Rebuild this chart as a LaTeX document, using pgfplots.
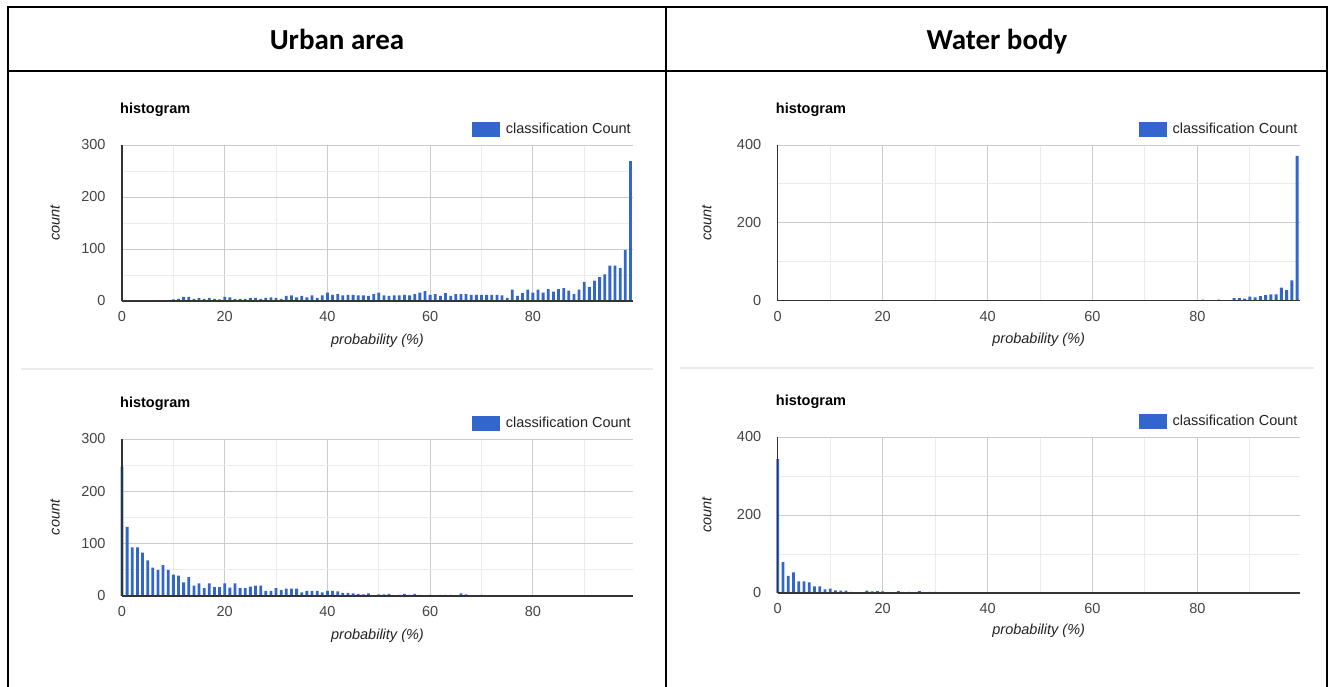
\documentclass[border=0pt]{standalone}
\usepackage{pgfplots}
\pgfplotsset{compat=1.18}
\usepackage{fontspec}
\setmainfont{Liberation Sans}
\newfontfamily\hdrfont{Carlito}
\definecolor{gblue}{HTML}{3366CC}
\definecolor{axdark}{HTML}{333333}
\definecolor{ticklab}{HTML}{444444}
\definecolor{labtxt}{HTML}{222222}
\definecolor{gmaj}{HTML}{CCCCCC}
\definecolor{gmin}{HTML}{EBEBEB}
\newcommand\cf{\fontsize{14.5}{16}\selectfont}
\pgfplotsset{
  gee/.style={
    scale only axis, anchor=south west, clip=false,
    xmin=0, xmax=99.5, ymin=0, enlargelimits=false,
    axis line style={draw=none},
    major tick length=0pt, minor tick length=0pt,
    xtick={0,20,40,60,80}, minor xtick={10,30,50,70,90},
    grid=both,
    major grid style={gmaj, line width=1pt},
    minor grid style={gmin, line width=1pt},
    ybar, bar width=2.8pt,
    /pgf/number format/assume math mode=true,
    ticklabel style={font=\cf, text=ticklab},
    xticklabel style={yshift=-7pt},
    yticklabel style={xshift=-13pt},
    title=histogram,
    title style={at={(rel axis cs:0,1)}, anchor=base west, inner sep=0pt, xshift=-2pt, yshift=26pt, font=\bfseries\cf, text=black},
    xlabel={probability (\%)},
    ylabel=count,
    label style={font=\itshape\cf, text=labtxt},
    legend style={at={(rel axis cs:1,1)}, anchor=east, yshift=16pt, draw=none, fill=none, inner sep=0pt, font=\cf, text=labtxt,
      /tikz/every odd column/.append style={column sep=4pt}},
  },
}
\newcommand\axlines{%
  \draw[axdark, line width=1.5pt] (rel axis cs:0,0) -- (rel axis cs:0,1);
  \draw[axdark, line width=1.5pt] (rel axis cs:0,0) -- (rel axis cs:1,0);
}
\begin{document}
\begin{tikzpicture}
\useasboundingbox (0pt,0pt) rectangle (1335pt,-687pt);
% table frame
\draw[line width=2pt] (8pt,-687pt) -- (8pt,-7pt) -- (1327pt,-7pt) -- (1327pt,-687pt);
\draw[line width=2pt] (8pt,-71pt) -- (1327pt,-71pt);
\draw[line width=2pt] (666pt,-7pt) -- (666pt,-687pt);
\node[font=\hdrfont\bfseries\fontsize{29}{32}\selectfont, anchor=base] at (337pt,-50pt) {Urban area};
\node[font=\hdrfont\bfseries\fontsize{29}{32}\selectfont, anchor=base] at (997pt,-50pt) {Water body};
\draw[gmin, line width=1.5pt] (21pt,-369pt) -- (653pt,-369pt);
\draw[gmin, line width=1.5pt] (680pt,-368pt) -- (1314pt,-368pt);

% Urban area, top
\begin{axis}[gee, at={(122pt,-301pt)}, width=511pt, height=156pt,
  ymax=300, ytick={0,100,200,300}, minor ytick={50,150,250},
  xlabel style={at={(axis description cs:0.5,-0.255)}, anchor=center},
  ylabel style={at={(axis description cs:-0.131,0.5)}, anchor=center}]
\addplot[fill=gblue, draw=none, legend image code/.code={\fill[gblue] (0pt,-7.5pt) rectangle (28pt,7.5pt);}] coordinates {
(0,0)(1,0)(2,0)(3,0)(4,0)(5,0)(6,0)(7,0)(8,1)(9,1)
(10,3)(11,4)(12,8)(13,8)(14,4)(15,6)(16,4)(17,6)(18,4)(19,3)
(20,8)(21,7)(22,4)(23,4)(24,4)(25,6)(26,6)(27,4)(28,6)(29,7)
(30,6)(31,4)(32,10)(33,11)(34,7)(35,10)(36,7)(37,11)(38,6)(39,11)
(40,16)(41,12)(42,13)(43,11)(44,12)(45,12)(46,11)(47,11)(48,10)(49,13)
(50,16)(51,11)(52,10)(53,11)(54,11)(55,12)(56,11)(57,13)(58,16)(59,19)
(60,12)(61,13)(62,10)(63,15)(64,10)(65,13)(66,13)(67,13)(68,12)(69,12)
(70,12)(71,12)(72,12)(73,12)(74,11)(75,6)(76,22)(77,10)(78,15)(79,22)
(80,16)(81,22)(82,16)(83,23)(84,18)(85,23)(86,25)(87,20)(88,13)(89,22)
(90,37)(91,27)(92,39)(93,46)(94,51)(95,68)(96,68)(97,63)(98,98)(99,269)};
\addlegendentry{classification Count}
\axlines
\end{axis}

% Urban area, bottom
\begin{axis}[gee, at={(122pt,-596pt)}, width=511pt, height=157pt,
  ymax=300, ytick={0,100,200,300}, minor ytick={50,150,250},
  xlabel style={at={(axis description cs:0.5,-0.254)}, anchor=center},
  ylabel style={at={(axis description cs:-0.131,0.5)}, anchor=center}]
\addplot[fill=gblue, draw=none, legend image code/.code={\fill[gblue] (0pt,-7.5pt) rectangle (28pt,7.5pt);}] coordinates {
(0,247)(1,132)(2,93)(3,93)(4,83)(5,68)(6,54)(7,50)(8,59)(9,50)
(10,41)(11,39)(12,26)(13,36)(14,20)(15,24)(16,15)(17,24)(18,17)(19,17)
(20,24)(21,16)(22,24)(23,15)(24,15)(25,18)(26,20)(27,20)(28,10)(29,10)
(30,15)(31,11)(32,14)(33,14)(34,14)(35,7)(36,10)(37,10)(38,10)(39,7)
(40,10)(41,10)(42,9)(43,6)(44,6)(45,5)(46,4)(47,3)(48,5)(49,1)
(50,3)(51,3)(52,4)(53,1)(54,2)(55,4)(56,2)(57,4)(58,2)(59,1)
(60,2)(61,1)(62,2)(63,2)(64,2)(65,1)(66,5)(67,3)(68,1)(69,0)
(70,2)(71,0)(72,1)(73,0)(74,0)(75,1)(76,0)(77,0)(78,0)(79,0)
(80,0)(81,0)(82,0)(83,0)(84,0)(85,0)(86,0)(87,0)(88,0)(89,0)
(90,0)(91,0)(92,0)(93,0)(94,0)(95,0)(96,0)(97,0)(98,0)(99,0)};
\addlegendentry{classification Count}
\axlines
\end{axis}

% Water body, top
\begin{axis}[gee, at={(777.7pt,-300.5pt)}, width=522pt, height=155.5pt,
  ymax=400, ytick={0,200,400}, minor ytick={100,300},
  xlabel style={at={(axis description cs:0.5,-0.25)}, anchor=center},
  ylabel style={at={(axis description cs:-0.136,0.5)}, anchor=center}]
\addplot[fill=gblue, draw=none, legend image code/.code={\fill[gblue] (0pt,-7.5pt) rectangle (28pt,7.5pt);}] coordinates {
(0,0)(1,0)(2,0)(3,0)(4,0)(5,0)(6,0)(7,0)(8,0)(9,0)
(10,0)(11,0)(12,0)(13,0)(14,0)(15,0)(16,0)(17,0)(18,0)(19,0)
(20,0)(21,0)(22,0)(23,0)(24,0)(25,0)(26,0)(27,0)(28,0)(29,0)
(30,0)(31,0)(32,0)(33,0)(34,0)(35,0)(36,0)(37,0)(38,0)(39,0)
(40,0)(41,0)(42,0)(43,0)(44,0)(45,0)(46,0)(47,0)(48,0)(49,0)
(50,0)(51,0)(52,0)(53,0)(54,0)(55,0)(56,0)(57,0)(58,0)(59,0)
(60,1)(61,0)(62,1)(63,0)(64,0)(65,0)(66,0)(67,0)(68,0)(69,0)
(70,0)(71,0)(72,0)(73,0)(74,0)(75,0)(76,0)(77,0)(78,0)(79,0)
(80,1)(81,2)(82,1)(83,1)(84,2)(85,1)(86,1)(87,6)(88,6)(89,5)
(90,10)(91,8)(92,11)(93,14)(94,16)(95,16)(96,33)(97,27)(98,52)(99,372)};
\addlegendentry{classification Count}
\axlines
\end{axis}

% Water body, bottom
\begin{axis}[gee, at={(777.7pt,-593pt)}, width=522pt, height=156pt,
  ymax=400, ytick={0,200,400}, minor ytick={100,300},
  xlabel style={at={(axis description cs:0.5,-0.245)}, anchor=center},
  ylabel style={at={(axis description cs:-0.136,0.5)}, anchor=center}]
\addplot[fill=gblue, draw=none, legend image code/.code={\fill[gblue] (0pt,-7.5pt) rectangle (28pt,7.5pt);}] coordinates {
(0,343)(1,79)(2,44)(3,53)(4,30)(5,30)(6,27)(7,17)(8,17)(9,9)
(10,11)(11,7)(12,6)(13,6)(14,3)(15,2)(16,2)(17,6)(18,4)(19,5)
(20,4)(21,2)(22,1)(23,5)(24,2)(25,3)(26,1)(27,5)(28,1)(29,3)
(30,3)(31,0)(32,0)(33,0)(34,0)(35,0)(36,0)(37,0)(38,0)(39,0)
(40,0)(41,0)(42,0)(43,0)(44,0)(45,0)(46,0)(47,0)(48,0)(49,0)
(50,0)(51,0)(52,0)(53,0)(54,0)(55,0)(56,0)(57,0)(58,0)(59,0)
(60,0)(61,0)(62,0)(63,0)(64,0)(65,0)(66,0)(67,0)(68,0)(69,0)
(70,0)(71,0)(72,0)(73,0)(74,0)(75,0)(76,0)(77,0)(78,0)(79,0)
(80,0)(81,0)(82,0)(83,0)(84,0)(85,0)(86,0)(87,0)(88,0)(89,0)
(90,0)(91,0)(92,0)(93,0)(94,0)(95,0)(96,0)(97,0)(98,0)(99,0)};
\addlegendentry{classification Count}
\axlines
\end{axis}
\end{tikzpicture}
\end{document}
